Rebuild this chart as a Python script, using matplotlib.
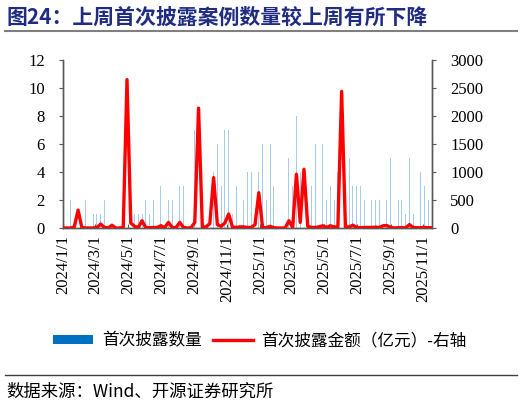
import matplotlib
matplotlib.use("Agg")
import matplotlib.pyplot as plt
from matplotlib.patches import Patch
from matplotlib.lines import Line2D
import pandas as pd

plt.rcParams['font.family'] = ['Noto Sans CJK SC', 'DejaVu Sans']

# ---- data ----
start_date = "2024-01-01"
counts = [0, 0, 2, 0, 2, 0, 2, 0, 1, 1, 1, 2, 0, 6, 0, 0, 0, 0, 0, 1,
          1, 1, 2, 1, 2, 0, 3, 0, 2, 2, 2, 3, 3, 0, 0, 7, 0, 0, 0, 0,
          4, 6, 3, 7, 7, 1, 3, 1, 2, 4, 4, 6, 4, 6, 2, 6, 3, 0, 0, 0,
          5, 3, 8, 4, 8, 0, 3, 6, 6, 6, 2, 3, 2, 4, 0, 0, 5, 3, 3, 3,
          2, 4, 2, 2, 2, 5, 2, 5, 0, 2, 2, 1, 5, 1, 1, 4, 3, 2, 1]
amounts = [0, 0, 0, 20, 320, 10, 0, 0, 0, 10, 70, 10, 0, 50, 0, 0, 10, 2650, 90, 30,
           10, 130, 5, 5, 10, 10, 40, 5, 100, 10, 5, 100, 10, 0, 5, 100, 2140, 20, 20, 80,
           900, 60, 30, 90, 250, 20, 10, 20, 20, 10, 10, 60, 630, 10, 5, 30, 5, 0, 0, 0,
           130, 10, 960, 100, 1050, 30, 10, 10, 20, 40, 10, 40, 20, 20, 2440, 20, 20, 50, 10, 5,
           10, 10, 10, 15, 10, 40, 45, 10, 0, 5, 5, 5, 60, 10, 5, 5, 10, 5, 5]
dates = pd.date_range(start_date, periods=len(counts), freq="7D")

tick_dates = ["2024-01-01", "2024-03-01", "2024-05-01", "2024-07-01", "2024-09-01", "2024-11-01",
              "2025-01-01", "2025-03-01", "2025-05-01", "2025-07-01", "2025-09-01", "2025-11-01"]
tick_labels = ["2024/1/1", "2024/3/1", "2024/5/1", "2024/7/1", "2024/9/1", "2024/11/1",
               "2025/1/1", "2025/3/1", "2025/5/1", "2025/7/1", "2025/9/1", "2025/11/1"]
left_ticks = [0, 2, 4, 6, 8, 10, 12]
right_ticks = [0, 500, 1000, 1500, 2000, 2500, 3000]

title = "图24：上周首次披露案例数量较上周有所下降"
legend_labels = ["首次披露数量", "首次披露金额（亿元）-右轴"]
source = "数据来源：Wind、开源证券研究所"

W, H = 522, 405
fig = plt.figure(figsize=(W / 100, H / 100), dpi=100)

def fx(px):
    return px / W

def fy(py):
    return 1 - py / H

ax = fig.add_axes([fx(63), fy(228), fx(432) - fx(63), fy(60) - fy(228)])
ax2 = ax.twinx()

spine_c = "#595959"
serif = ["Liberation Serif", "DejaVu Serif"]
tfs = 12

# bars
ax.bar(dates, counts, width=1.6, color="#A8CBEA", linewidth=0, zorder=2)
ax.set_ylim(0, 12)
ax.set_yticks(left_ticks)
ax.set_xlim(pd.Timestamp(start_date), dates[-1])
ax.set_xticks([pd.Timestamp(d) for d in tick_dates])
ax.set_xticklabels(tick_labels, rotation=90, family=serif, fontsize=tfs, color="black")
for lab in ax.get_yticklabels():
    lab.set_family(serif)
    lab.set_fontsize(tfs)

# line
ax2.plot(dates, amounts, color="#FF0000", linewidth=2.4, solid_joinstyle="round",
         solid_capstyle="round", zorder=3)
ax2.set_ylim(0, 3000)
ax2.set_yticks(right_ticks)
for lab in ax2.get_yticklabels():
    lab.set_family(serif)
    lab.set_fontsize(tfs)

for a in (ax, ax2):
    a.spines["top"].set_visible(False)
    for s in ("left", "right", "bottom"):
        a.spines[s].set_color(spine_c)
        a.spines[s].set_linewidth(1.0)
    a.patch.set_visible(False)

ax.tick_params(axis="y", direction="out", length=3, color=spine_c, pad=10, labelcolor="black")
ax2.tick_params(axis="y", direction="out", length=3, color=spine_c, pad=10, labelcolor="black")
ax.tick_params(axis="x", direction="in", length=3, color=spine_c, pad=5)

# title and lines
fig.text(fx(7), fy(17), title, fontsize=15, fontweight="bold", color="#1F2C82",
         va="center", ha="left")
fig.add_artist(Line2D([fx(5), fx(517)], [fy(31), fy(31)], color="#7F7F7F", linewidth=1.5))
fig.add_artist(Line2D([fx(5), fx(517)], [fy(375), fy(375)], color="#404040", linewidth=1.0))
fig.text(fx(6), fy(392), source, fontsize=12.5, color="black", va="center", ha="left")

# legend
handles = [Patch(facecolor="#0070C0", edgecolor="none"),
           Line2D([0], [0], color="#FF0000", linewidth=2.4)]
leg = fig.legend(handles, legend_labels, loc="center", bbox_to_anchor=(fx(260), fy(341)),
                 ncol=2, frameon=False, fontsize=12, handlelength=2.4, handleheight=0.45,
                 handletextpad=0.5, columnspacing=0.7)

fig.savefig("out.png", dpi=100)
